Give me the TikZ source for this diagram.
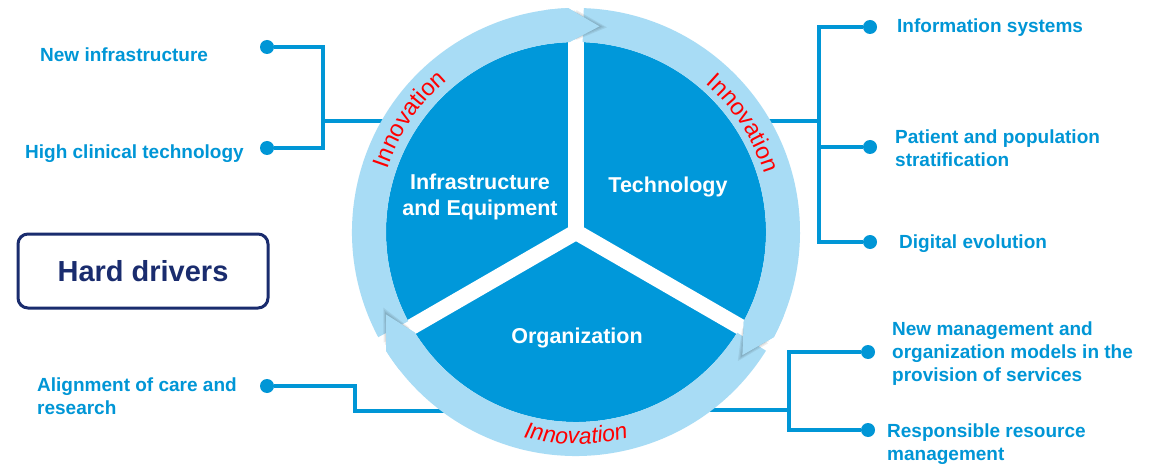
\documentclass[tikz,border=0pt]{standalone}
\usepackage{fontspec}
\setmainfont{Liberation Sans}
\usetikzlibrary{decorations.text}
\definecolor{darkb}{HTML}{0098DA}
\definecolor{ringb}{HTML}{A8DCF5}
\definecolor{lineb}{HTML}{0096D6}
\definecolor{navy}{HTML}{1A2C6E}
\definecolor{innored}{HTML}{FF0000}
\begin{document}
\begin{tikzpicture}[x=1pt,y=1pt,
  conn/.style={draw=lineb, line width=4pt},
  dot/.style={circle, fill=lineb, inner sep=0pt, minimum size=14pt},
  lbl/.style={text=lineb, font=\bfseries\fontsize{19}{23}\selectfont, inner sep=0pt, align=left},
  inlbl/.style={text=white, font=\bfseries\fontsize{21.5}{25.5}\selectfont, inner sep=0pt, align=center},
  ringseg/.style={fill=ringb},
  sep/.style={draw=white, line width=16pt},
  hdbox/.style={draw=navy, line width=3pt, rounded corners=10pt, text=navy,
    font=\bfseries\fontsize{29}{34}\selectfont, minimum width=250pt, minimum height=74pt, inner sep=0pt}
]
\useasboundingbox[fill=white] (0,0) rectangle (1155,469);

% ---- connectors (drawn first, ring covers their ends)
\node[dot] (d1) at (267,422) {};
\node[dot] (d2) at (267,321) {};
\coordinate (j1) at (323,348);
\coordinate (e1) at (395,348);
\draw[conn] (d1) -| (j1);
\draw[conn] (d2) -| (j1);
\draw[conn] (j1) -- (e1);

\node[dot] (d3) at (870,442) {};
\node[dot] (d4) at (870,322) {};
\node[dot] (d5) at (870,227) {};
\coordinate (j2) at (819,348);
\coordinate (e2) at (760,348);
\draw[conn] (d3) -| (j2);
\draw[conn] (d5) -| (j2);
\draw[conn] (d4) -| (j2);
\draw[conn] (j2) -- (e2);

\node[dot] (d6) at (267,83) {};
\coordinate (j3) at (355,58);
\coordinate (e3) at (450,58);
\draw[conn] (d6) -| (j3) -- (e3);

\node[dot] (d7) at (868,117) {};
\node[dot] (d8) at (868,39) {};
\coordinate (j4) at (789,59);
\coordinate (e4) at (700,59);
\draw[conn] (d7) -| (j4);
\draw[conn] (d8) -| (j4);
\draw[conn] (j4) -- (e4);

% ---- wheel
\begin{scope}[shift={(576,237)}]
  \coordinate (c) at (0,0);
  \fill[darkb] (c) circle[radius=190pt];
  \draw[sep] (c) -- (90:192);
  \draw[sep] (c) -- (210:192);
  \draw[sep] (c) -- (330:192);
  \fill[white] (c) circle[radius=7pt];
  % ring segments
  \foreach \s in {210,90,-30} {
    \fill[ringseg] ({\s-2}:224) arc[start angle={\s-2}, end angle={\s-118}, radius=224pt]
      -- ({\s-126.5}:207) -- ({\s-118}:190)
      arc[start angle={\s-118}, end angle={\s-2}, radius=190pt] -- cycle;
  }
  % shadows of arrow heads
  \foreach \s in {210,90,-30} {
    \foreach \r in {-0.7,-1.4,-2.1} {
      \fill[black, opacity=0.07, rotate=\r] ({\s-118}:222) -- ({\s-126.5}:207) -- ({\s-118}:192) -- cycle;
    }
  }
  % arrow heads on top
  \foreach \s in {210,90,-30} {
    \fill[ringseg] ({\s-112}:224) arc[start angle={\s-112}, end angle={\s-118}, radius=224pt]
      -- ({\s-126.5}:207) -- ({\s-118}:190)
      arc[start angle={\s-118}, end angle={\s-112}, radius=190pt] -- cycle;
  }
  % Innovation labels
  \path[decorate, decoration={text along path, text align=center,
     text={|\fontsize{23.5}{23.5}\selectfont\color{innored}|Innovation}}]
     (186:199) arc[start angle=186, end angle=106, radius=199pt];
  \path[decorate, decoration={text along path, text align=center,
     text={|\fontsize{23.5}{23.5}\selectfont\color{innored}|Innovation}}]
     (73:197) arc[start angle=73, end angle=-7, radius=197pt];
  \path[decorate, decoration={text along path, text align=center,
     text={|\fontsize{23}{23}\selectfont\itshape\color{innored}|Innovation}}]
     (-130:212) arc[start angle=-130, end angle=-50, radius=212pt];
\end{scope}

% ---- labels inside the wheel
\node[inlbl, anchor=north] (infra) at (480,295.1) {Infrastructure\\and Equipment};
\node[inlbl, anchor=base] (tech) at (668,276.3) {Technology};
\node[inlbl, anchor=base] (org) at (577,125.7) {Organization};

% ---- outer labels
\node[lbl, anchor=base west] (t1) at (40,407.3) {New infrastructure};
\node[lbl, anchor=base west] (t2) at (25,310.7) {High clinical technology};
\node[lbl, anchor=base west] (t3) at (897,436) {Information systems};
\node[lbl, anchor=north west] (t4) at (895,339.9) {Patient and population\\stratification};
\node[lbl, anchor=base west] (t5) at (899,220.7) {Digital evolution};
\node[lbl, anchor=north west] (t6) at (892,147.6) {New management and\\organization models in the\\provision of services};
\node[lbl, anchor=north west] (t7) at (887,45.9) {Responsible resource\\management};
\node[lbl, anchor=north west] (t8) at (37,91.9) {Alignment of care and\\research};

% ---- Hard drivers box
\node[hdbox] (hd) at (143,198) {Hard drivers};
\end{tikzpicture}
\end{document}
